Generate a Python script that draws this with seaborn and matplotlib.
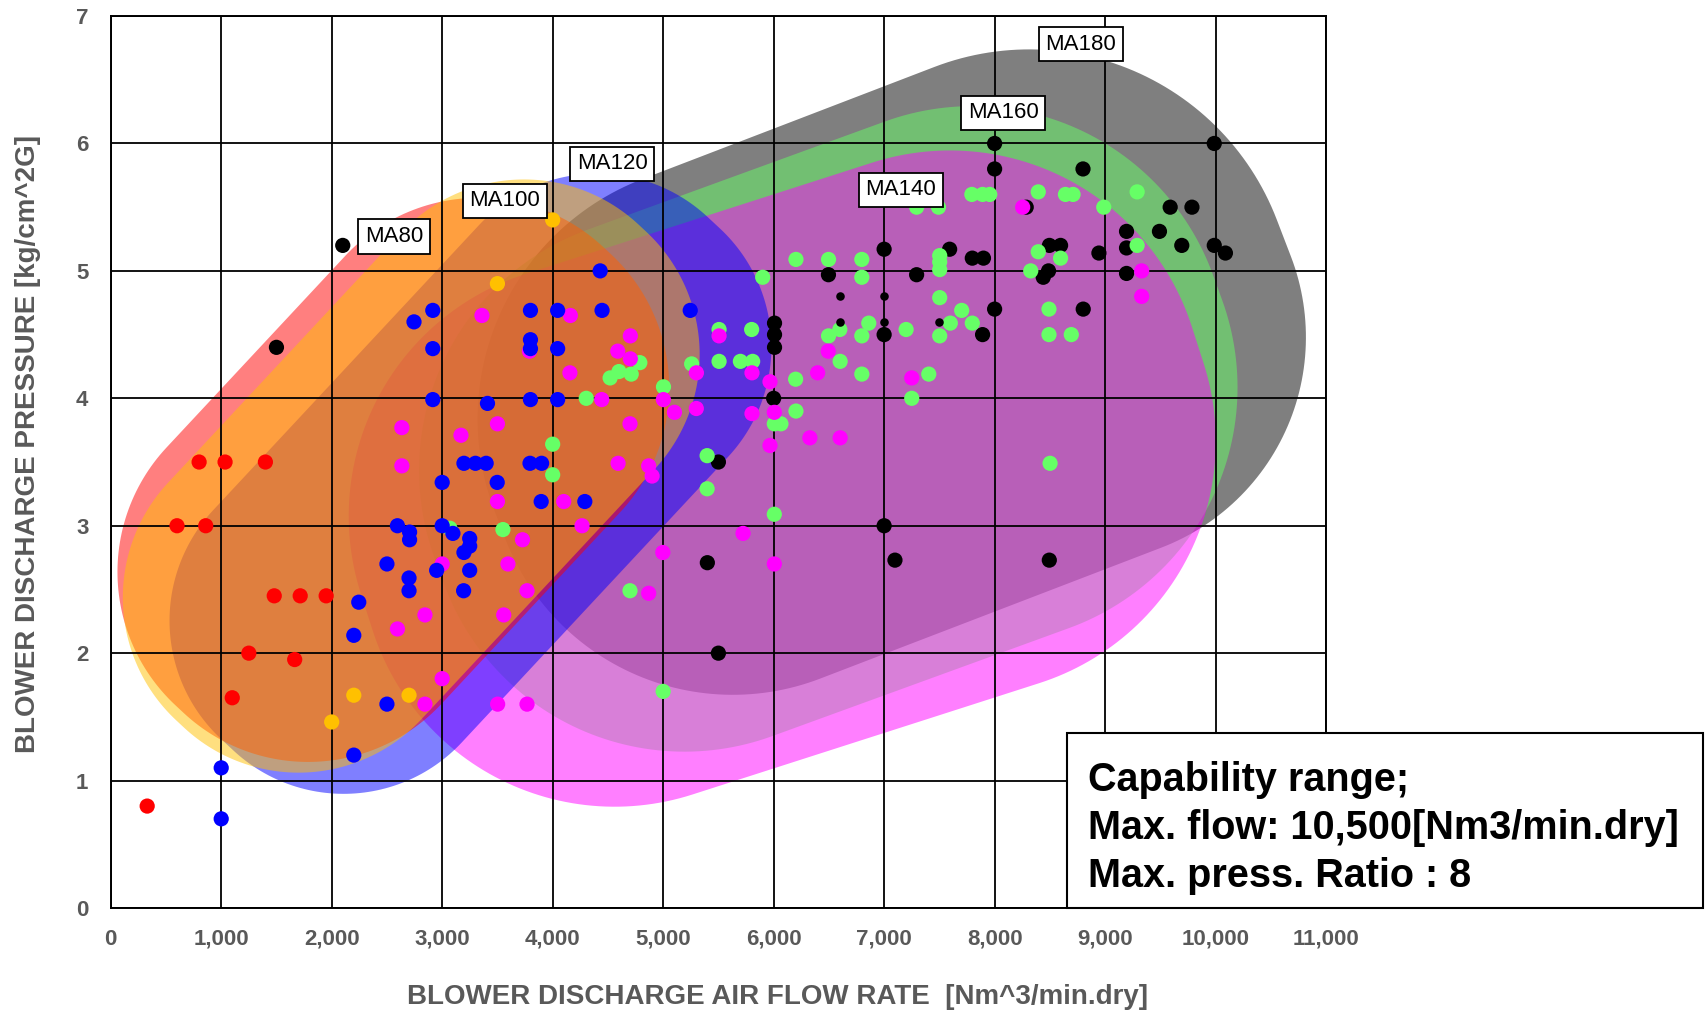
import numpy as np
import pandas as pd
import matplotlib
matplotlib.use("Agg")
import matplotlib.pyplot as plt
import seaborn as sns
from matplotlib.patches import Polygon, Rectangle
from matplotlib import font_manager

# ---------------- measured operating points ----------------
ma80_flow = [330, 600, 800, 860, 1035, 1400, 1100, 1250, 1480, 1665, 1715, 1950]
ma80_press = [0.8, 3.0, 3.5, 3.0, 3.5, 3.5, 1.65, 2.0, 2.45, 1.95, 2.45, 2.45]

ma100_flow = [4000, 3500, 2200, 2700, 2000]
ma100_press = [5.4, 4.9, 1.67, 1.67, 1.46]

ma120_flow = [1000, 1000, 2200, 2245, 2200, 2500, 2500, 2595, 2705, 2705, 2700, 2700,
              2745, 2915, 2915, 2915, 2950, 3000, 3000, 3097, 3197, 3249, 3249, 3194,
              3249, 3197, 3301, 3398, 3410, 3498, 3795, 3900, 3799, 3799, 3799, 3799,
              4045, 4045, 4045, 3896, 4291, 4430, 4447, 5245]
ma120_press = [1.1, 0.7, 1.2, 2.4, 2.14, 1.6, 2.7, 3.0, 2.95, 2.89, 2.59, 2.49,
               4.6, 4.69, 4.39, 3.99, 2.65, 3.34, 3.0, 2.94, 2.79, 2.9, 2.84, 2.49,
               2.65, 3.49, 3.49, 3.49, 3.96, 3.34, 3.49, 3.49, 4.69, 4.46, 4.39, 3.99,
               4.69, 4.39, 3.99, 3.19, 3.19, 5.0, 4.69, 4.69]

ma140_flow = [3360, 4160, 4703, 4589, 4703, 4156, 3790, 4444, 5002, 5102, 5300, 2635,
              3170, 3500, 4700, 2635, 4592, 4869, 4900, 3500, 4100, 4266, 3727, 4997,
              3000, 3595, 3768, 4869, 2844, 2595, 3557, 3000, 2844, 3502, 3768,
              5506, 5301, 5804, 5967, 5804, 6006, 6494, 6398, 6328, 6602, 5967, 7250,
              5723, 6006, 8254, 9331, 9331]
ma140_press = [4.65, 4.65, 4.49, 4.37, 4.31, 4.2, 4.37, 3.99, 3.99, 3.89, 3.92, 3.77,
               3.71, 3.8, 3.8, 3.47, 3.49, 3.47, 3.39, 3.19, 3.19, 3.0, 2.89, 2.79,
               2.7, 2.7, 2.49, 2.47, 2.3, 2.19, 2.3, 1.8, 1.6, 1.6, 1.6,
               4.49, 4.2, 4.2, 4.13, 3.88, 3.89, 4.37, 4.2, 3.69, 3.69, 3.63, 4.16,
               2.94, 2.7, 5.5, 5.0, 4.8]

ma160_flow = [3550, 4700, 5000, 5398, 5398, 6006, 6006, 6066, 6202, 4000, 4000, 4304,
              5003, 4520, 4600, 4711, 4789, 5258, 5506, 5699, 5810, 5506, 5801, 5901,
              6202, 6497, 6798, 6798, 7503, 7503, 7503, 7503, 7702, 7599, 7798, 7199,
              7503, 6861, 6599, 6497, 6798, 6602, 6798, 6199, 7404, 7250, 8502, 3070,
              7794, 7891, 7956, 8395, 8641, 8710, 9290, 8988, 7294, 7492, 8395, 8597,
              9290, 8327, 8492, 8492, 8694]
ma160_press = [2.97, 2.49, 1.7, 3.29, 3.55, 3.09, 3.8, 3.8, 3.9, 3.64, 3.4, 4.0,
               4.09, 4.16, 4.21, 4.19, 4.28, 4.27, 4.29, 4.29, 4.29, 4.54, 4.54, 4.95,
               5.09, 5.09, 5.09, 4.95, 5.12, 5.07, 5.01, 4.79, 4.69, 4.59, 4.59, 4.54,
               4.49, 4.59, 4.54, 4.49, 4.49, 4.29, 4.19, 4.15, 4.19, 4.0, 3.49, 2.98,
               5.6, 5.6, 5.6, 5.62, 5.6, 5.6, 5.62, 5.5, 5.5, 5.5, 5.15, 5.1,
               5.2, 5.0, 4.7, 4.5, 4.5]

ma180_flow = [2100, 1500, 5500, 5400, 5500, 6000, 6008, 6008, 6008, 6496, 7000, 7294,
              7593, 7798, 7899, 7000, 7891, 8000, 8000, 8000, 8800, 8802, 8286, 8496,
              8597, 8944, 8488, 8440, 9194, 9194, 9194, 9492, 9589, 9786, 9694, 9988,
              9988, 10089, 7000, 7098, 8495]
ma180_press = [5.2, 4.4, 3.5, 2.71, 2.0, 4.0, 4.59, 4.5, 4.4, 4.97, 5.17, 4.97,
               5.17, 5.1, 5.1, 4.5, 4.5, 6.0, 5.8, 4.7, 5.8, 4.7, 5.5, 5.2,
               5.2, 5.14, 5.0, 4.95, 5.31, 5.18, 4.98, 5.31, 5.5, 5.5, 5.2, 6.0,
               5.2, 5.14, 3.0, 2.73, 2.73]

ma180_minor_flow = [6600, 7000, 6600, 7000, 7500]
ma180_minor_press = [4.8, 4.8, 4.6, 4.6, 4.6]

models = ["MA180", "MA160", "MA140", "MA120", "MA100", "MA80"]
point_colors = {"MA80": "#FF0000", "MA100": "#FFC000", "MA120": "#0000FF",
                "MA140": "#FF00FF", "MA160": "#66FF66", "MA180": "#000000"}

# label anchors for the model names
label_flow = [2565, 3567, 4541, 7151, 8077, 8778]
label_press = [5.27, 5.55, 5.84, 5.635, 6.24, 6.78]
label_names = ["MA80", "MA100", "MA120", "MA140", "MA160", "MA180"]

x_ticks = list(range(0, 11001, 1000))
y_ticks = list(range(0, 8))

# capability envelopes: centre (flow, pressure), length/width in pressure units
# measured along a rotated axis, rotation in screen degrees, corner rounding
regions = [
    ("MA180", (7027, 4.23), 6.55, 4.16, 21.0, [1.0, 0.97, 0.92, 0.85]),
    ("MA160", (6495, 3.76), 6.50, 4.23, 20.0, [0.95, 0.95, 0.95, 0.95]),
    ("MA140", (6078, 3.37), 6.85, 4.29, 17.8, [0.93, 0.93, 0.93, 0.93]),
    ("MA120", (3256, 3.33), 5.60, 2.67, 47.0, [0.95, 0.95, 0.95, 0.95]),
    ("MA80", (2558, 3.36), 4.92, 2.95, 47.0, [0.97, 0.97, 0.97, 0.97]),
    ("MA100", (2720, 3.39), 5.32, 2.72, 47.0, [0.97, 0.97, 0.97, 0.97]),
]

# ---------------- fonts ----------------
available = {f.name for f in font_manager.fontManager.ttflist}
if "Liberation Sans Narrow" in available:
    label_font, label_size, tick_size, box_font, box_size = "Liberation Sans Narrow", 24, 19, "Liberation Sans Narrow", 33
else:
    label_font, label_size, tick_size, box_font, box_size = "Liberation Sans", 20, 16, "Liberation Sans", 28.5

sns.set_theme(style="white")
plt.rcParams["font.family"] = ["Liberation Sans", "DejaVu Sans"]

W_IN, H_IN = 17.06, 10.15
fig = plt.figure(figsize=(W_IN, H_IN), dpi=100)
ax_pos = [0.0649, 0.1054, 0.7124, 0.8788]
ax = fig.add_axes(ax_pos)
ax.set_xlim(0, 11000)
ax.set_ylim(0, 7)

# ratio that turns flow units into the same on-screen length as pressure units
px_per_flow = ax_pos[2] * W_IN * 100 / 11000
px_per_press = ax_pos[3] * H_IN * 100 / 7
k = px_per_flow * 1000 / px_per_press


def envelope(center, length, width, angle, fracs, n_arc=60):
    c = np.array([center[0] / 1000 * k, center[1]])
    th = np.deg2rad(angle)
    d = np.array([np.cos(th), np.sin(th)])
    nv = np.array([-np.sin(th), np.cos(th)])
    hl, hw = length / 2, width / 2
    corners = [c + hl * d + hw * nv, c - hl * d + hw * nv,
               c - hl * d - hw * nv, c + hl * d - hw * nv]
    pts = []
    for i, p in enumerate(corners):
        a = corners[i - 1]
        b = corners[(i + 1) % 4]
        u1 = (a - p) / np.linalg.norm(a - p)
        u2 = (b - p) / np.linalg.norm(b - p)
        r = fracs[i] * hw
        ctr = p + r * u1 + r * u2
        t1 = p + r * u1
        t2 = p + r * u2
        a1 = np.arctan2(t1[1] - ctr[1], t1[0] - ctr[0])
        a2 = np.arctan2(t2[1] - ctr[1], t2[0] - ctr[0])
        delta = (a2 - a1 + np.pi) % (2 * np.pi) - np.pi
        ang = a1 + delta * np.linspace(0, 1, n_arc)
        pts.append(np.column_stack([ctr[0] + r * np.cos(ang), ctr[1] + r * np.sin(ang)]))
    pts = np.vstack(pts)
    pts[:, 0] = pts[:, 0] / k * 1000
    return pts


for name, center, length, width, angle, fracs in regions:
    poly = Polygon(envelope(center, length, width, angle, fracs), closed=True,
                   facecolor=point_colors[name], alpha=0.5, edgecolor="none", zorder=0.2)
    ax.add_patch(poly)

# ---------------- operating points ----------------
series = {"MA180": (ma180_flow, ma180_press), "MA160": (ma160_flow, ma160_press),
          "MA140": (ma140_flow, ma140_press), "MA120": (ma120_flow, ma120_press),
          "MA100": (ma100_flow, ma100_press), "MA80": (ma80_flow, ma80_press)}
df = pd.concat([pd.DataFrame({"flow": series[m][0], "pressure": series[m][1], "model": m})
                for m in models], ignore_index=True)

sns.scatterplot(data=df, x="flow", y="pressure", hue="model", palette=point_colors,
                s=120, linewidth=0, legend=False, ax=ax, zorder=4)
sns.scatterplot(x=ma180_minor_flow, y=ma180_minor_press, color="black", s=38,
                linewidth=0, legend=False, ax=ax, zorder=4)

for fx, py, name in zip(label_flow, label_press, label_names):
    ax.text(fx, py, name, ha="center", va="center", fontsize=16, color="black",
            family=["Liberation Sans", "DejaVu Sans"],
            bbox=dict(boxstyle="square,pad=0.3", fc="white", ec="black", lw=1.3), zorder=6)

# ---------------- axes styling ----------------
ax.set_xticks(x_ticks)
ax.set_yticks(y_ticks)
ax.set_xticklabels([f"{v:,}" for v in x_ticks])
ax.set_yticklabels([str(v) for v in y_ticks])
ax.set_axisbelow(True)
ax.grid(True, color="black", linewidth=1.3)
for sp in ax.spines.values():
    sp.set_color("black")
    sp.set_linewidth(1.4)
ax.tick_params(axis="both", length=0, colors="#595959", labelsize=tick_size)
ax.tick_params(axis="x", pad=15)
ax.tick_params(axis="y", pad=16)
for lab in ax.get_xticklabels() + ax.get_yticklabels():
    lab.set_fontweight("bold")
    lab.set_family([label_font, "DejaVu Sans"])

ax.set_xlabel("BLOWER DISCHARGE AIR FLOW RATE  [Nm^3/min.dry]", fontsize=label_size,
              fontweight="bold", color="#595959", family=[label_font, "DejaVu Sans"])
ax.set_ylabel("BLOWER DISCHARGE PRESSURE [kg/cm^2G]", fontsize=label_size,
              fontweight="bold", color="#595959", family=[label_font, "DejaVu Sans"])
ax.xaxis.set_label_coords(0.549, -0.085)
ax.yaxis.set_label_coords(-0.057, 0.52)

# ---------------- capability note ----------------
fig.add_artist(Rectangle((0.6254, 0.1054), 0.9982 - 0.6254, 0.2778 - 0.1054,
                         transform=fig.transFigure, facecolor="white",
                         edgecolor="black", linewidth=1.5, zorder=10))
note_lines = ["Capability range;", "Max. flow: 10,500[Nm3/min.dry]", "Max. press. Ratio : 8"]
for yy, line in zip([0.2207, 0.1734, 0.1261], note_lines):
    fig.text(0.6378, yy, line, ha="left", va="baseline", fontsize=box_size,
             fontweight="bold", color="black", family=[box_font, "DejaVu Sans"], zorder=11)

fig.savefig("out.png", dpi=100)
